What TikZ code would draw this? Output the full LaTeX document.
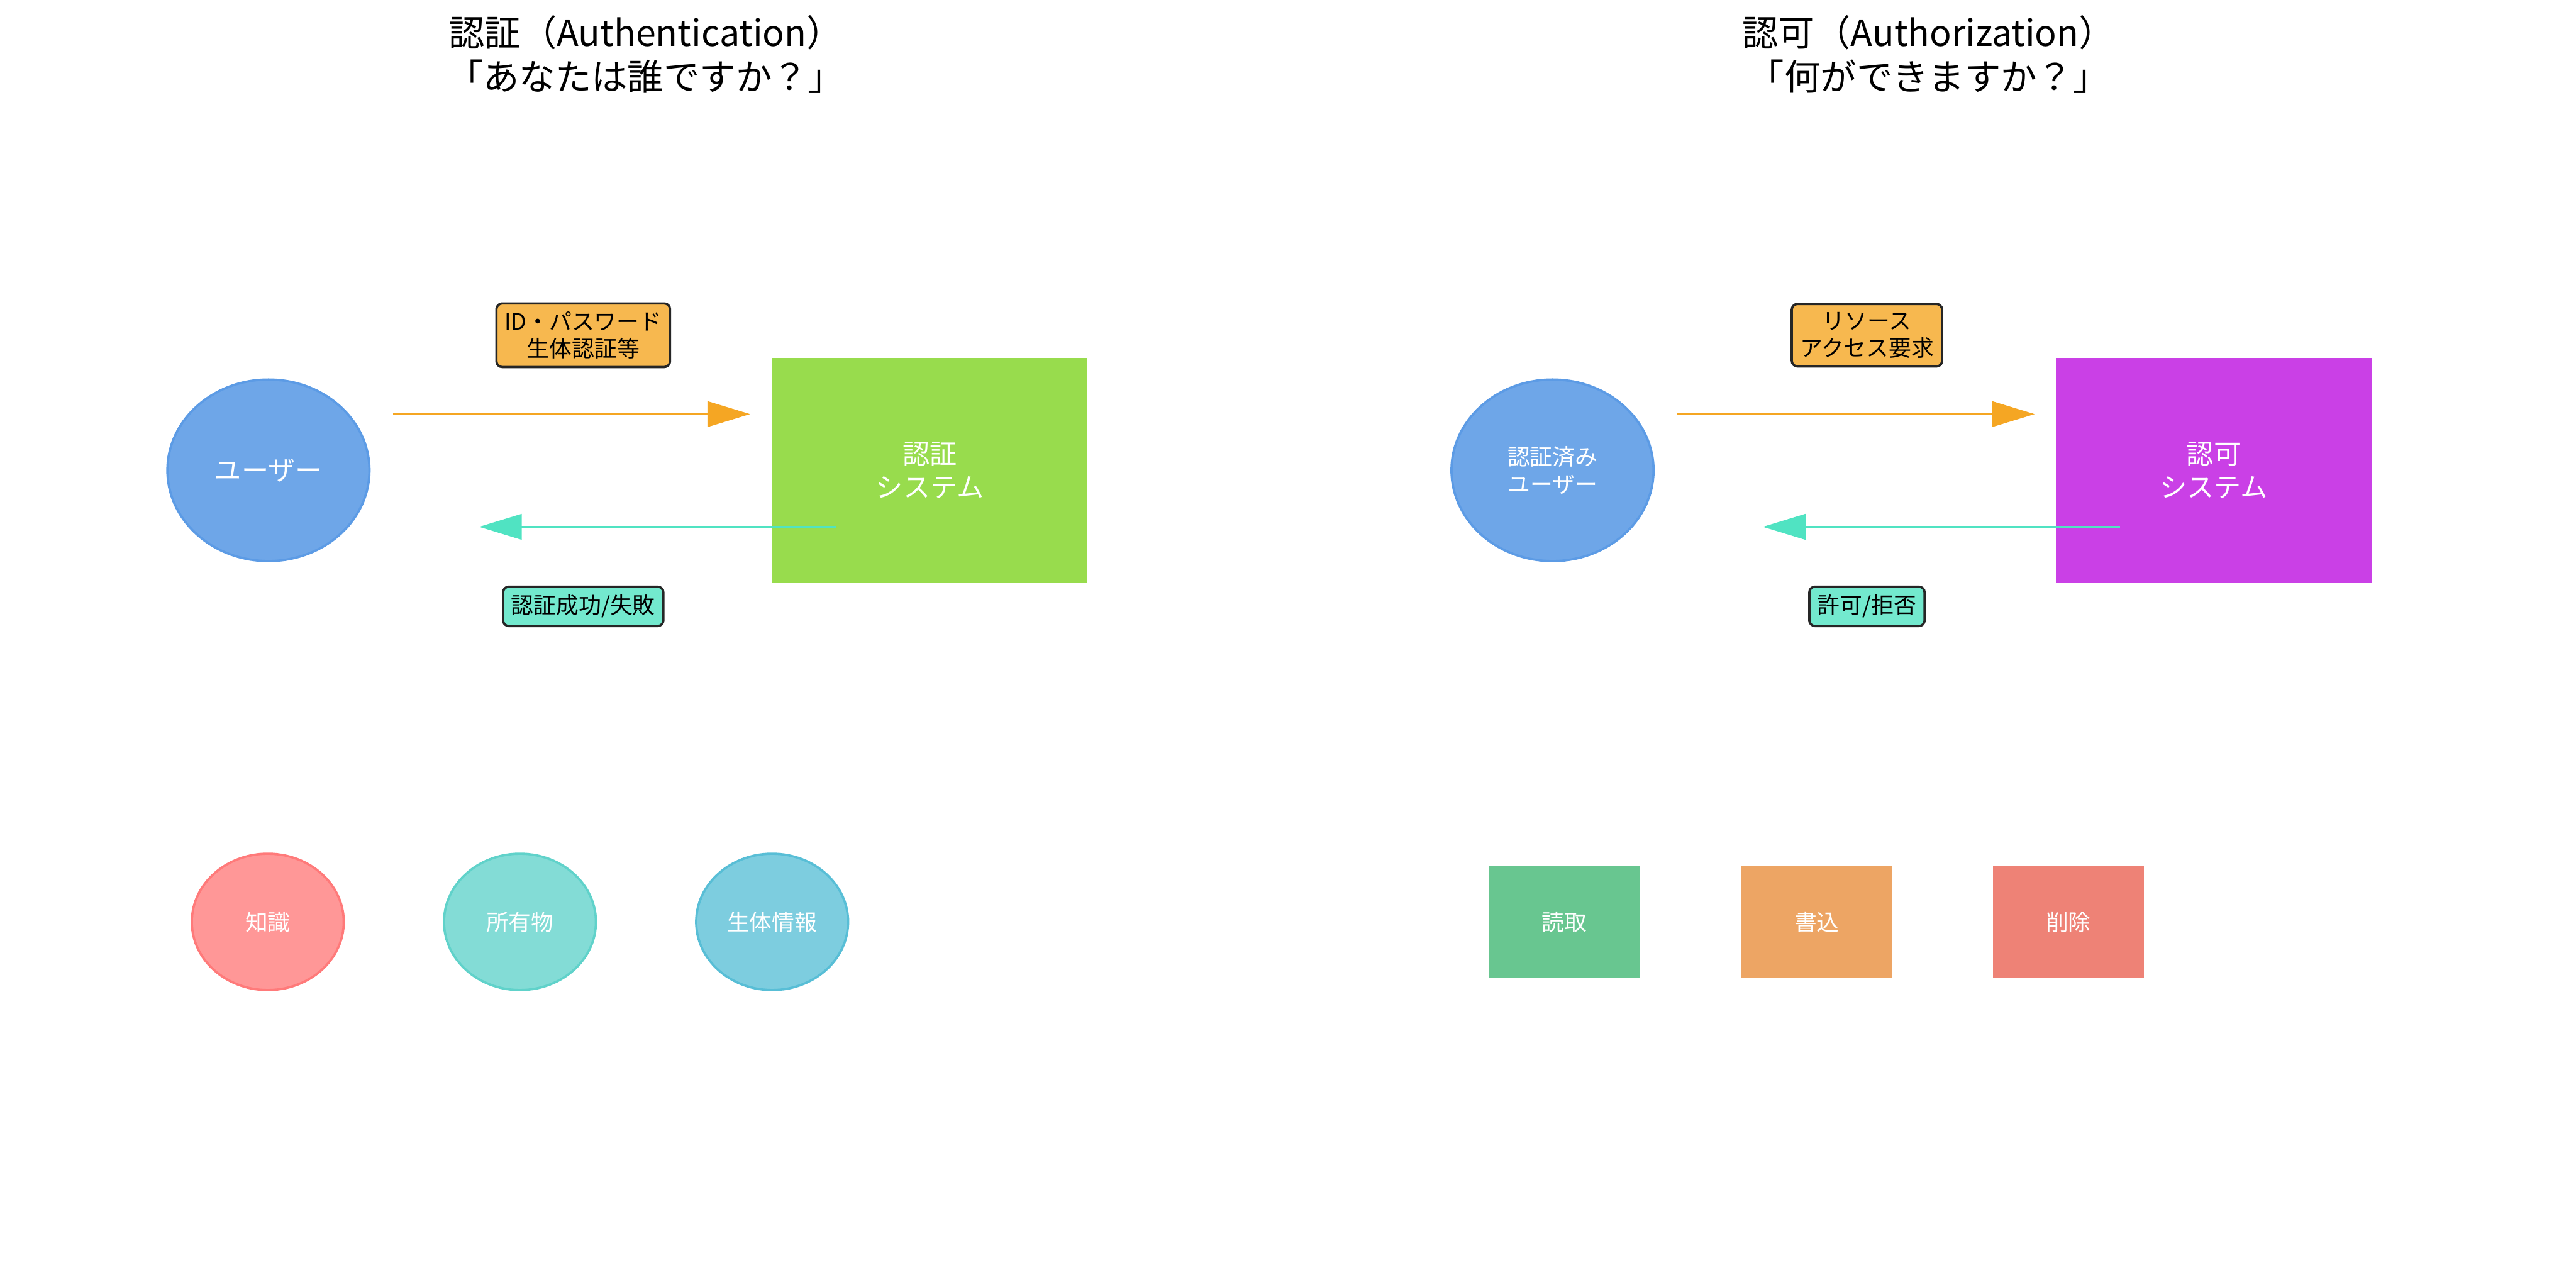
\documentclass[tikz,border=0pt]{standalone}
\usepackage{fontspec}
\setmainfont{Noto Sans CJK JP}
\usepackage{xcolor}
\usetikzlibrary{positioning, arrows.meta, shapes.geometric}

\definecolor{userblue}{HTML}{4A90E2}
\definecolor{authgreen}{HTML}{7ED321}
\definecolor{authzpurple}{HTML}{BD10E0}
\definecolor{reqorange}{HTML}{F5A623}
\definecolor{resteal}{HTML}{50E3C2}
\definecolor{knowred}{HTML}{FF6B6B}
\definecolor{owncyan}{HTML}{4ECDC4}
\definecolor{bioblue}{HTML}{45B7D1}
\definecolor{readgreen}{HTML}{27AE60}
\definecolor{writeorange}{HTML}{E67E22}
\definecolor{delred}{HTML}{E74C3C}

\begin{document}
\begin{tikzpicture}[
        x=0.02cm, y=-0.02cm,
        title/.style={align=center, font=\fontsize{12.5}{15.2}\selectfont},
        user/.style={ellipse, draw=userblue!90, fill=userblue!80, line width=0.8pt, minimum width=2.46cm, minimum height=2.21cm, inner sep=0pt, text=white, align=center},
        system/.style={rectangle, minimum width=3.84cm, minimum height=2.74cm, inner sep=0pt, text=white, align=center, font=\fontsize{9.4}{11.4}\selectfont},
        tag/.style={rectangle, rounded corners=2pt, draw=black!85, line width=0.8pt, inner sep=0.1cm, align=center, font=\fontsize{7.8}{9.4}\selectfont},
        factor/.style={ellipse, line width=0.8pt, minimum width=1.85cm, minimum height=1.66cm, inner sep=0pt, text=white, font=\fontsize{7.8}{9.4}\selectfont},
        perm/.style={rectangle, minimum width=1.84cm, minimum height=1.37cm, inner sep=0pt, text=white, font=\fontsize{7.8}{9.4}\selectfont},
        reqarrow/.style={draw=reqorange, line width=0.7pt, -{Triangle[length=0.52cm, width=0.31cm]}},
        resarrow/.style={draw=resteal, line width=0.7pt, -{Triangle[length=0.52cm, width=0.31cm]}}
    ]
        \useasboundingbox (0,0) rectangle (1568,777);

        % authentication side
        \node[title] (authnTitle) at (393, 33) {認証（Authentication）\\「あなたは誰ですか？」};
        \node[user, font=\fontsize{9.4}{11.4}\selectfont] (user) at (163.4, 286.2) {ユーザー};
        \node[system, fill=authgreen!80] (authnSys) at (566, 286.2) {認証\\システム};
        \node[tag, fill=reqorange!80] (credTag) at (355, 204) {ID・パスワード\\生体認証等};
        \node[tag, fill=resteal!80] (resultTag) at (355, 369) {認証成功/失敗};

        \coordinate (credFrom) at (239.2, 252);
        \coordinate (credTo)   at (456.6, 252);
        \coordinate (resFrom)  at (508.6, 320.6);
        \coordinate (resTo)    at (291.6, 320.6);
        \draw[reqarrow] (credFrom) -- (credTo);
        \draw[resarrow] (resFrom) -- (resTo);

        \node[factor, draw=knowred!90, fill=knowred!70]  (know) at (163, 561)   {知識};
        \node[factor, draw=owncyan!90, fill=owncyan!70]  (own)  at (316.5, 561) {所有物};
        \node[factor, draw=bioblue!90, fill=bioblue!70]  (bio)  at (470, 561)   {生体情報};

        % authorization side
        \node[title] (authzTitle) at (1174, 33) {認可（Authorization）\\「何ができますか？」};
        \node[user, font=\fontsize{7.8}{9.7}\selectfont] (authUser) at (945, 286.2) {認証済み\\ユーザー};
        \node[system, fill=authzpurple!80] (authzSys) at (1347.5, 286.2) {認可\\システム};
        \node[tag, fill=reqorange!80] (accessTag) at (1136.4, 204) {リソース\\アクセス要求};
        \node[tag, fill=resteal!80] (grantTag) at (1136.4, 369) {許可/拒否};

        \coordinate (accFrom)   at (1020.8, 252);
        \coordinate (accTo)     at (1238.5, 252);
        \coordinate (grantFrom) at (1290.4, 320.6);
        \coordinate (grantTo)   at (1073, 320.6);
        \draw[reqarrow] (accFrom) -- (accTo);
        \draw[resarrow] (grantFrom) -- (grantTo);

        \node[perm, fill=readgreen!70]   (read)  at (952.3, 561)  {読取};
        \node[perm, fill=writeorange!70] (write) at (1105.9, 561) {書込};
        \node[perm, fill=delred!70]      (del)   at (1259, 561)   {削除};
    \end{tikzpicture}
\end{document}
